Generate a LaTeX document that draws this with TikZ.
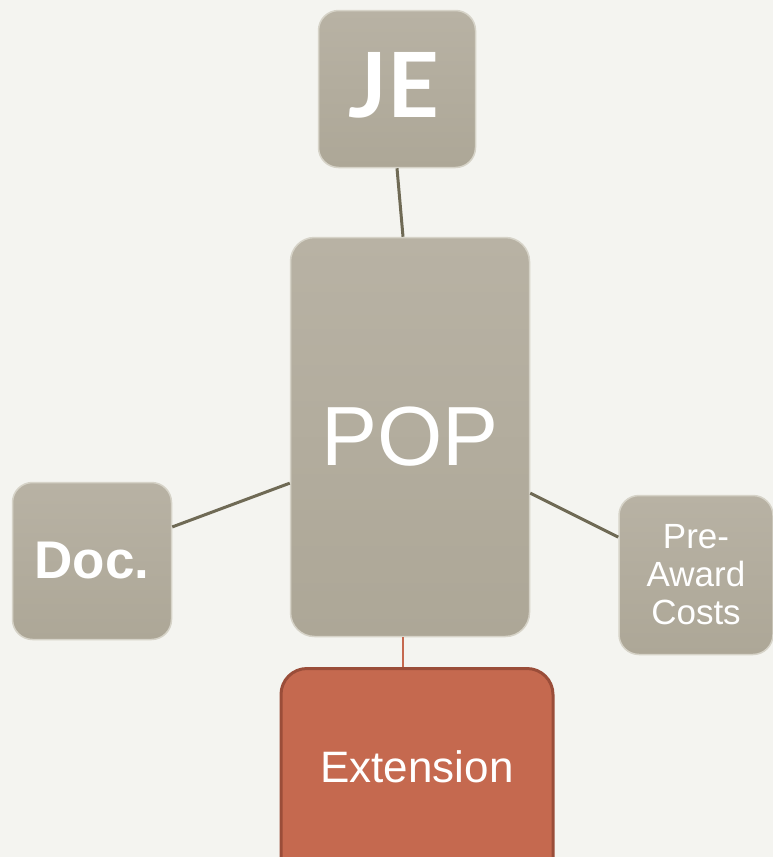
\documentclass[tikz,border=0pt]{standalone}
\usepackage{fontspec}
\setmainfont{Liberation Sans}
\newfontfamily\latofont{Lato}
\definecolor{bg}{HTML}{F4F4F0}
\definecolor{boxtop}{HTML}{B8B2A4}
\definecolor{boxbot}{HTML}{ADA797}
\definecolor{boxedge}{HTML}{D6D3C8}
\definecolor{conn}{HTML}{6F6A55}
\definecolor{extfill}{HTML}{C5694F}
\definecolor{extedge}{HTML}{9A4D39}
\begin{document}
\begin{tikzpicture}[x=1pt,y=-1pt,
  graybox/.style={draw=boxedge, line width=1.5pt, top color=boxtop, bottom color=boxbot,
    rounded corners=20pt, text=white, align=center, inner sep=0pt},
  extbox/.style={draw=extedge, line width=3pt, fill=extfill, rounded corners=26pt,
    text=white, align=center, inner sep=0pt},
  link/.style={draw=conn, line width=3pt},
  extlink/.style={draw=extfill, line width=1.6pt}]
\useasboundingbox[fill=bg] (0,0) rectangle (773,857);
% boxes
\node[graybox, minimum width=157pt, minimum height=157pt] (je) at (397,89) {};
\node[text=white, font=\latofont\bfseries\fontsize{90}{90}\selectfont, inner sep=0pt,
  anchor=base] (jelabel) at (394,117) {JE};
\node[graybox, minimum width=239pt, minimum height=399pt, rounded corners=24pt,
  font=\fontsize{84}{84}\selectfont] (pop) at (410,437) {POP};
\node[graybox, minimum width=159pt, minimum height=157pt,
  font=\bfseries\fontsize{53}{53}\selectfont] (doc) at (92,561) {Doc.};
\node[graybox, minimum width=154pt, minimum height=159pt,
  font=\fontsize{35}{38}\selectfont] (pre) at (696,575) {Pre-\\Award\\Costs};
\begin{scope}
\clip (0,0) rectangle (773,857);
\node[extbox, minimum width=272pt, minimum height=230pt, anchor=north] (ext) at (417,667) {};
\node[text=white, font=\fontsize{44}{44}\selectfont] (extlabel) at (417,767) {Extension};
\end{scope}
% connectors
\draw[link] (je.south) -- (pop.92);
\draw[link] (pop.201) -- (doc.23);
\draw[link] (pop.335) -- (pre.154);
\draw[extlink] (pop.south -| 403,0) -- (ext.north -| 403,0);
\end{tikzpicture}
\end{document}
